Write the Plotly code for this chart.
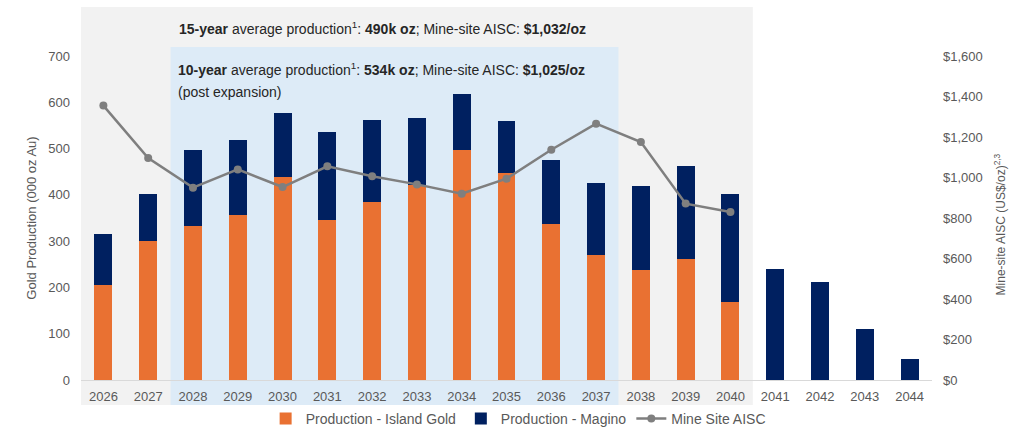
import plotly.graph_objects as go

years = [str(y) for y in range(2026, 2045)]
island_gold = [205, 300, 333, 357, 438, 346, 384, 421, 496, 447, 337, 271, 237, 262, 168, 0, 0, 0, 0]
magino = [110, 102, 163, 161, 139, 189, 178, 144, 122, 113, 138, 155, 183, 200, 234, 240, 211, 110, 46]
aisc_years = [str(y) for y in range(2026, 2041)]
aisc = [1355, 1096, 950, 1040, 953, 1055, 1006, 966, 920, 994, 1137, 1266, 1175, 871, 830]

FONT = "Arial, Liberation Sans, sans-serif"
GRAY_TXT = "#595959"
ORANGE = "#E97132"
NAVY = "#002060"

fig = go.Figure()
fig.add_trace(go.Bar(x=years, y=island_gold, name="Production - Island Gold",
                     marker=dict(color=ORANGE, line=dict(width=0)), width=0.4))
fig.add_trace(go.Bar(x=years, y=magino, name="Production - Magino",
                     marker=dict(color=NAVY, line=dict(width=0)), width=0.4))
fig.add_trace(go.Scatter(x=aisc_years, y=aisc, name="Mine Site AISC", yaxis="y2",
                         mode="lines+markers", line=dict(color="#7F7F7F", width=2.5),
                         marker=dict(color="#7F7F7F", size=8)))

# Background bands (gray: 15-year period, blue: 10-year post expansion)
fig.add_shape(type="rect", xref="x", yref="paper", x0=-0.52, x1=14.5, y0=-0.077, y1=1.151,
              fillcolor="#F2F2F2", line=dict(width=0), layer="below")
fig.add_shape(type="rect", xref="x", yref="paper", x0=1.5, x1=11.5, y0=-0.077, y1=1.028,
              fillcolor="#DDEBF7", line=dict(width=0), layer="below")

ann_font = dict(family=FONT, size=14, color="#262626")
fig.add_annotation(xref="x", yref="paper", x=1.65, y=1.085, xanchor="left", yanchor="middle",
                   showarrow=False, font=ann_font,
                   text="<b>15-year</b> average production<sup>1</sup>: <b>490k oz</b>; Mine-site AISC: <b>$1,032/oz</b>")
fig.add_annotation(xref="x", yref="paper", x=1.63, y=0.96, xanchor="left", yanchor="middle",
                   showarrow=False, font=ann_font,
                   text="<b>10-year</b> average production<sup>1</sup>: <b>534k oz</b>; Mine-site AISC: <b>$1,025/oz</b>")
fig.add_annotation(xref="x", yref="paper", x=1.63, y=0.889, xanchor="left", yanchor="middle",
                   showarrow=False, font=ann_font, text="(post expansion)")
fig.add_annotation(xref="paper", yref="paper", x=1.081, y=0.48, xanchor="center", yanchor="middle",
                   showarrow=False, textangle=-90,
                   font=dict(family=FONT, size=12, color=GRAY_TXT),
                   text="Mine-site AISC (US$/oz)<sup>2,3</sup>")

fig.update_layout(
    width=1010, height=428,
    margin=dict(l=81, r=78, t=56, b=48, autoexpand=False),
    barmode="stack",
    bargap=0.6,
    paper_bgcolor="white",
    plot_bgcolor="rgba(0,0,0,0)",
    font=dict(family=FONT, size=13, color=GRAY_TXT),
    showlegend=True,
    legend=dict(orientation="h", x=0.513, xanchor="center", xref="container",
                y=0.021, yanchor="middle", yref="container", traceorder="normal",
                font=dict(family=FONT, size=14, color=GRAY_TXT), bgcolor="rgba(0,0,0,0)",
                itemwidth=30, tracegroupgap=0),
    xaxis=dict(type="category", range=[-0.5, 18.5], showgrid=False, zeroline=False,
               showline=True, linecolor="#D9D9D9", linewidth=1, ticks="", automargin=False,
               tickfont=dict(size=13, color=GRAY_TXT), ticklabelstandoff=4),
    yaxis=dict(range=[0, 700], dtick=100, showgrid=False, zeroline=False, showline=False,
               tickfont=dict(size=13, color=GRAY_TXT), ticklabelstandoff=10, automargin=False,
               title=dict(text="Gold Production (000 oz Au)", font=dict(size=13, color=GRAY_TXT),
                          standoff=8)),
    yaxis2=dict(range=[0, 1600], dtick=200, overlaying="y", side="right", showgrid=False,
                zeroline=False, showline=False, tickprefix="$", tickformat=",", automargin=False,
                tickfont=dict(size=13, color=GRAY_TXT), ticklabelstandoff=10),
)

fig.write_html("out.html", config={"displayModeBar": False},
               post_script="document.body.style.margin='0';document.body.style.padding='0';")
